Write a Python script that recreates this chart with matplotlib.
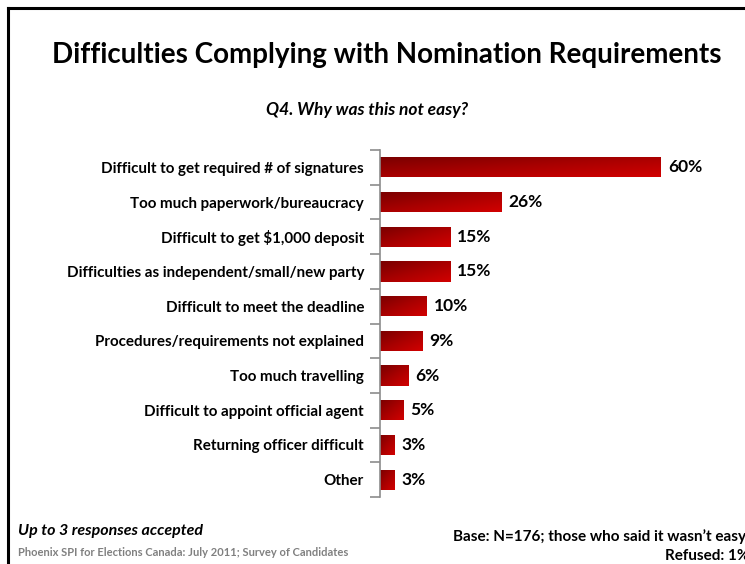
import numpy as np
import matplotlib.pyplot as plt
from matplotlib.colors import LinearSegmentedColormap
from matplotlib.lines import Line2D

categories = [
    'Difficult to get required # of signatures',
    'Too much paperwork/bureaucracy',
    'Difficult to get $1,000 deposit',
    'Difficulties as independent/small/new party',
    'Difficult to meet the deadline',
    'Procedures/requirements not explained',
    'Too much travelling',
    'Difficult to appoint official agent',
    'Returning officer difficult',
    'Other',
]
values = [60, 26, 15, 15, 10, 9, 6, 5, 3, 3]

FONT = 'Lato'
red_grad = LinearSegmentedColormap.from_list('redgrad', ['#780000', '#a80000', '#d20000'])

fig = plt.figure(figsize=(7.45, 5.64), dpi=100)
W, H = 745, 564

# slide frame (top and left edges visible)
fig.add_artist(Line2D([8 / W, 8 / W], [0, 1 - 8 / H], color='black', lw=2.2,
                      transform=fig.transFigure))
fig.add_artist(Line2D([8 / W, 1], [1 - 8 / H, 1 - 8 / H], color='black', lw=2.2,
                      transform=fig.transFigure))

fig.text(387 / W, 1 - 55 / H, 'Difficulties Complying with Nomination Requirements',
         ha='center', va='center', fontsize=20, fontweight='bold', family=FONT)
fig.text(367 / W, 1 - 110 / H, 'Q4. Why was this not easy?', ha='center', va='center',
         fontsize=12.5, fontweight='bold', style='italic', family=FONT)

ax = fig.add_axes([380 / W, (H - 497) / H, (661 - 380) / W, 347 / H])

ypos = np.arange(len(categories))
bh = 0.58
bars = ax.barh(ypos, values, height=bh, color='none', edgecolor='none')

grad = np.add.outer(np.linspace(0, 1, 40), np.linspace(0, 1, 200)) / 2
for b, v, y in zip(bars, values, ypos):
    im = ax.imshow(grad, cmap=red_grad, aspect='auto', interpolation='bilinear',
                   extent=(0, v, y + bh / 2, y - bh / 2), origin='upper')
    im.set_clip_path(b)
    ax.text(v + 1.5, y, f'{v}%', va='center', ha='left', fontsize=12.5,
            fontweight='bold', family=FONT, clip_on=False)
ax.set_xlim(0, 60)
ax.set_ylim(len(categories) - 0.5, -0.5)

for s in ['top', 'right', 'bottom']:
    ax.spines[s].set_visible(False)
ax.spines['left'].set_color('#8c8c8c')
ax.spines['left'].set_linewidth(1.2)
ax.set_xticks([])
ax.set_yticks(ypos)
ax.set_yticklabels(categories, fontsize=10.9, fontweight='bold', family=FONT)
ax.tick_params(axis='y', which='major', length=0, pad=11.5)
ax.set_yticks(np.arange(-0.5, len(categories)), minor=True)
ax.tick_params(axis='y', which='minor', length=7, width=1.2, color='#8c8c8c')

fig.text(18 / W, 1 - 531 / H, 'Up to 3 responses accepted', ha='left', va='center',
         fontsize=11.5, fontweight='bold', style='italic', family=FONT)
fig.text(18 / W, 1 - 553 / H, 'Phoenix SPI for Elections Canada: July 2011; Survey of Candidates',
         ha='left', va='center', fontsize=8, fontweight='bold', color='#808080', family=FONT)
fig.text(453 / W, 1 - 537 / H, 'Base: N=176; those who said it wasn\u2019t easy', ha='left',
         va='center', fontsize=11, fontweight='bold', family=FONT)
fig.text(665 / W, 1 - 556 / H, 'Refused: 1%', ha='left', va='center',
         fontsize=11, fontweight='bold', family=FONT)

fig.savefig('out.png', dpi=100)
